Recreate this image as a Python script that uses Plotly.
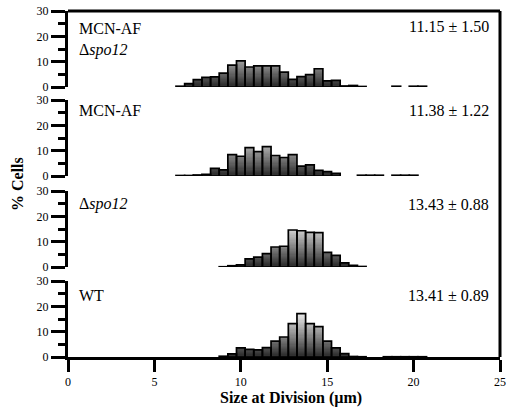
import numpy as np
import plotly.graph_objects as go

# ---------------- data ----------------
bins = [6.5, 7.0, 7.5, 8.0, 8.5, 9.0, 9.5, 10.0, 10.5, 11.0, 11.5, 12.0, 12.5, 13.0,
        13.5, 14.0, 14.5, 15.0, 15.5, 16.0, 16.5, 17.0, 17.5, 18.0, 18.5, 19.0, 19.5,
        20.0, 20.5]

mcn_af_spo12 = [0.3, 1.3, 2.9, 3.8, 4.0, 5.5, 8.6, 10.3, 7.9, 8.3, 8.3, 8.3, 5.9, 3.0,
                4.1, 4.9, 7.2, 2.4, 2.6, 0.4, 0.6, 0.2, 0, 0, 0, 0.3, 0, 0.3, 0.3]
mcn_af = [0.2, 0.2, 0.4, 0.7, 3.0, 2.4, 8.4, 7.8, 11.2, 9.6, 11.6, 8.1, 7.3, 8.4,
          3.9, 4.4, 2.2, 1.7, 1.0, 0, 0, 0.3, 0.3, 0.3, 0, 0.3, 0.3, 0.3, 0]
spo12 = [0, 0, 0, 0, 0, 0.1, 0.5, 0.8, 3.2, 3.9, 5.3, 7.9, 8.2, 14.6,
         14.3, 13.7, 13.6, 5.8, 4.6, 1.6, 0.7, 0.2, 0, 0, 0, 0, 0, 0, 0]
wt = [0, 0, 0, 0, 0, 0.3, 1.2, 3.6, 3.0, 2.8, 3.7, 6.3, 7.9, 13.2,
      17.1, 13.2, 12.0, 6.3, 3.6, 1.3, 0.2, 0.1, 0, 0, 0.1, 0.1, 0.1, 0.1, 0.1]

panel_names = [["MCN-AF", "Δ<i>spo12</i>"], ["MCN-AF"], ["Δ<i>spo12</i>"], ["WT"]]
panel_stats = ["11.15 ± 1.50", "11.38 ± 1.22", "13.43 ± 0.88", "13.41 ± 0.89"]
series = [mcn_af_spo12, mcn_af, spo12, wt]

y_ticks = [0, 10, 20, 30]
y_minor = [5, 15, 25]
x_ticks = [0, 5, 10, 15, 20, 25]

# ---------------- layout geometry (pixels) ----------------
W, H = 506, 412
L, R, T, B = 68, 6, 11, 55
plot_h = H - T - B
panel_px = [(11, 87), (100, 176), (191, 267), (281, 357)]


def py(ypix):
    return (H - B - ypix) / plot_h


def px(xpix):
    return (xpix - L) / (W - L - R)


FONT = "Liberation Serif"

fig = go.Figure()


def gray(level):
    g0, g1, top = 40, 240, 17.5
    t = min(max(level / top, 0), 1)
    g = int(round(g0 + (g1 - g0) * t))
    return f"rgb({g},{g},{g})"


for i, vals in enumerate(series):
    ax = "y" if i == 0 else f"y{i + 1}"
    v = np.array(vals, dtype=float)
    step = 0.5
    levels = np.arange(step, v.max() + step, step)[::-1]
    for lev in levels:
        yy = np.minimum(v, lev)
        mask = v > lev - step
        yy = [float(a) if m else None for a, m in zip(yy, mask)]
        fig.add_trace(go.Bar(x=bins, y=yy, yaxis=ax, xaxis="x", width=0.5,
                             marker=dict(color=gray(lev - step / 2), line=dict(width=0)),
                             showlegend=False, hoverinfo="skip"))
    outline = [float(a) if a > 0 else None for a in v]
    fig.add_trace(go.Bar(x=bins, y=outline, yaxis=ax, xaxis="x", width=0.5,
                         marker=dict(color="rgba(0,0,0,0)", line=dict(color="black", width=1.7)),
                         showlegend=False, hoverinfo="skip"))

layout = dict(
    width=W, height=H,
    margin=dict(l=L, r=R, t=T, b=B, autoexpand=False),
    paper_bgcolor="white", plot_bgcolor="white",
    barmode="overlay", bargap=0,
    showlegend=False,
    font=dict(family=FONT, color="black"),
    xaxis=dict(range=[0, 25], tickvals=x_ticks, ticks="outside", ticklen=12, tickwidth=3,
               tickcolor="black", showline=True, linewidth=3, linecolor="black",
               showgrid=False, zeroline=False, anchor="y4",
               tickfont=dict(family=FONT, size=12)),
)

for i, (top, bot) in enumerate(panel_px):
    key = "yaxis" if i == 0 else f"yaxis{i + 1}"
    layout[key] = dict(
        domain=[py(bot), py(top)], range=[0, 30], tickvals=y_ticks,
        ticks="outside", ticklen=14, tickwidth=3, tickcolor="black",
        minor=dict(tickvals=y_minor, ticks="outside", ticklen=7, tickwidth=3, tickcolor="black"),
        showline=True, linewidth=3, linecolor="black", showgrid=False, zeroline=False,
        anchor="x", tickfont=dict(family=FONT, size=12),
    )

fig.update_layout(**layout)

# frame: top and right border
fig.add_shape(type="line", xref="paper", yref="paper", x0=0, x1=1, y0=1, y1=1,
              line=dict(color="black", width=3))
fig.add_shape(type="line", xref="paper", yref="paper", x0=1, x1=1, y0=0, y1=1,
              line=dict(color="black", width=3))

label_y = [[28, 50], [111], [204], [295]]
stat_y = [27, 110, 204, 295]
for i in range(4):
    for name, yp in zip(panel_names[i], label_y[i]):
        fig.add_annotation(text=name, xref="paper", yref="paper", x=px(77), y=py(yp),
                           xanchor="left", yanchor="middle", showarrow=False,
                           font=dict(family=FONT, size=16, color="black"))
    fig.add_annotation(text=panel_stats[i], xref="paper", yref="paper", x=px(491), y=py(stat_y[i]),
                       xanchor="right", yanchor="middle", showarrow=False,
                       font=dict(family=FONT, size=16, color="black"))

fig.add_annotation(text="<b>% Cells</b>", xref="paper", yref="paper", x=px(17), y=py(184),
                   xanchor="center", yanchor="middle", textangle=-90, showarrow=False,
                   font=dict(family=FONT, size=16, color="black"))
fig.add_annotation(text="<b>Size at Division (µm)</b>", xref="paper", yref="paper", x=px(291), y=py(398),
                   xanchor="center", yanchor="middle", showarrow=False,
                   font=dict(family=FONT, size=16, color="black"))

fig.write_html("out.html", config={"displayModeBar": False, "staticPlot": True})

# remove the default page margin so the figure sits at the window's top-left corner
with open("out.html", "r", encoding="utf-8") as f:
    html = f.read()
html = html.replace("<head>", "<head><style>html,body{margin:0;padding:0;overflow:hidden;}</style>", 1)
with open("out.html", "w", encoding="utf-8") as f:
    f.write(html)
